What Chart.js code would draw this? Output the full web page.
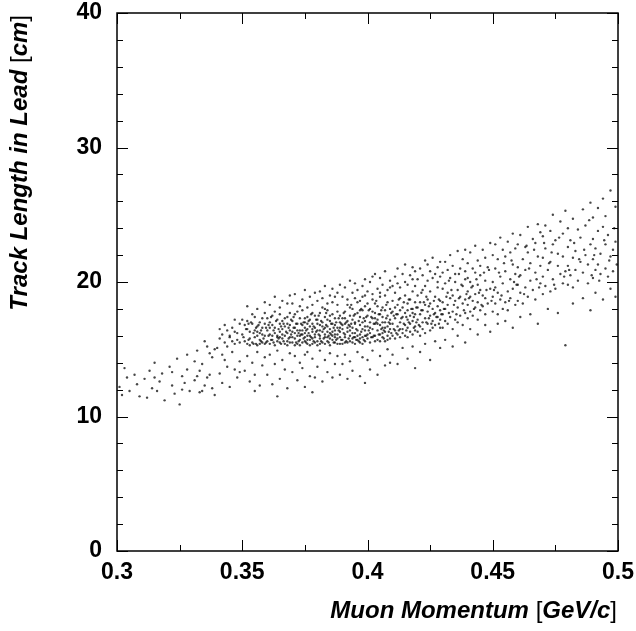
<!DOCTYPE html>
<html>
<head>
<meta charset="utf-8">
<script src="https://cdn.jsdelivr.net/npm/chart.js@4"></script>
<style>
  html, body { margin: 0; padding: 0; background: #fff; }
  #wrap { width: 636px; height: 631px; }
</style>
</head>
<body>
<div id="wrap"><canvas id="scatter"></canvas></div>
<script>
// [momentum GeV/c, track length cm]
const pts030_035 = [
  [0.301,12.2],[0.302,11.6],[0.304,12.9],[0.305,11.9],[0.307,13.1],[0.308,12.4],[0.309,11.5],[0.303,13.6],
  [0.311,12.8],[0.312,11.4],[0.313,13.4],[0.314,12.1],[0.315,14.0],[0.316,11.9],[0.317,12.6],[0.318,13.2],[0.319,11.2],[0.315,12.9],
  [0.321,13.7],[0.322,12.3],[0.323,11.7],[0.324,14.3],[0.325,10.9],[0.326,13.0],[0.327,12.5],[0.328,14.6],[0.329,11.9],[0.322,13.3],[0.326,12.0],[0.328,13.5],
  [0.331,12.7],[0.332,14.9],[0.333,11.8],[0.334,13.9],[0.335,12.3],[0.336,15.2],[0.337,13.1],[0.338,14.4],[0.339,11.6],[0.331,14.1],[0.333,13.4],[0.335,15.6],[0.336,12.9],[0.338,12.1],[0.339,15.0],[0.334,11.9],[0.337,14.7],[0.332,13.0],
  [0.341,15.8],[0.341,13.2],[0.342,16.1],[0.342,12.5],[0.343,15.5],[0.343,14.2],[0.344,16.4],[0.344,13.7],[0.345,15.9],[0.345,12.2],[0.346,16.6],[0.346,14.8],[0.347,15.4],[0.347,13.5],[0.348,16.2],[0.348,15.7],[0.348,12.9],[0.349,16.9],[0.349,15.5],[0.349,14.1],[0.345,16.0],[0.346,15.6],[0.347,16.3],[0.343,16.8],[0.344,15.2],[0.342,14.6],[0.349,13.3],[0.341,16.5],[0.347,17.2],[0.340,15.1]
];

const pts035_040 = [
  [0.350,16.1],[0.351,15.6],[0.351,16.8],[0.352,15.4],[0.352,17.1],[0.353,16.3],[0.353,15.8],[0.354,16.9],[0.354,15.5],[0.355,16.4],[0.355,17.4],[0.355,15.9],[0.356,16.0],[0.356,15.3],[0.356,16.7],[0.357,17.0],[0.357,15.7],[0.357,16.2],[0.358,15.5],[0.358,16.6],[0.358,17.3],[0.359,16.0],[0.359,15.4],[0.359,16.9],[0.350,17.2],[0.352,16.5],[0.353,15.3],[0.354,17.6],[0.356,16.3],[0.357,15.4],[0.358,16.1],[0.359,17.7],
  [0.351,13.4],[0.352,14.5],[0.353,12.6],[0.354,14.0],[0.355,13.1],[0.356,14.8],[0.357,12.3],[0.358,13.8],[0.359,14.4],[0.355,11.9],
  [0.352,18.2],[0.356,18.0],[0.359,18.5],
  [0.360,15.6],[0.360,16.4],[0.361,17.0],[0.361,15.4],[0.361,16.1],[0.362,16.8],[0.362,15.7],[0.362,17.5],[0.363,16.2],[0.363,15.3],[0.363,16.6],[0.364,17.2],[0.364,15.9],[0.364,16.0],[0.365,15.5],[0.365,16.9],[0.365,17.6],[0.365,16.3],[0.366,15.8],[0.366,16.5],[0.366,17.1],[0.367,15.4],[0.367,16.0],[0.367,16.7],[0.368,17.4],[0.368,15.6],[0.368,16.2],[0.368,15.3],[0.369,16.8],[0.369,15.9],[0.369,17.7],[0.369,16.4],[0.360,17.3],[0.362,16.0],[0.363,17.8],[0.364,15.6],[0.366,16.1],[0.367,17.3],[0.368,16.9],[0.369,15.5],[0.361,16.6],[0.365,15.9],
  [0.360,13.1],[0.361,14.6],[0.362,12.4],[0.363,13.9],[0.364,14.9],[0.365,12.8],[0.366,14.2],[0.367,13.5],[0.368,12.1],[0.369,14.7],[0.364,11.5],
  [0.361,18.3],[0.363,18.9],[0.365,18.1],[0.366,18.6],[0.368,18.4],[0.369,19.0],
  [0.370,15.5],[0.370,16.3],[0.370,17.1],[0.371,15.8],[0.371,16.6],[0.371,17.6],[0.372,15.4],[0.372,16.0],[0.372,16.9],[0.373,15.7],[0.373,16.4],[0.373,17.3],[0.373,15.3],[0.374,16.1],[0.374,16.8],[0.374,17.9],[0.375,15.6],[0.375,16.2],[0.375,17.0],[0.375,15.9],[0.376,16.5],[0.376,15.4],[0.376,17.4],[0.376,16.0],[0.377,15.7],[0.377,16.7],[0.377,17.2],[0.377,15.3],[0.378,16.3],[0.378,15.8],[0.378,17.7],[0.378,16.9],[0.379,15.5],[0.379,16.1],[0.379,16.6],[0.379,17.5],[0.370,15.9],[0.371,16.2],[0.372,17.8],[0.373,16.0],[0.374,15.5],[0.375,16.6],[0.376,16.9],[0.377,16.0],[0.378,15.4],[0.379,15.9],[0.372,16.4],[0.374,16.4],[0.376,15.7],[0.378,16.5],[0.371,15.3],[0.375,17.3],
  [0.370,13.3],[0.371,14.5],[0.372,12.7],[0.373,14.0],[0.374,13.6],[0.375,12.2],[0.376,14.8],[0.377,13.0],[0.378,14.3],[0.379,12.9],[0.375,14.6],[0.378,11.8],
  [0.370,18.4],[0.371,19.1],[0.373,18.2],[0.374,18.7],[0.375,19.4],[0.376,18.1],[0.377,18.9],[0.378,18.3],[0.379,19.2],
  [0.380,15.6],[0.380,16.4],[0.380,17.2],[0.380,15.3],[0.381,16.0],[0.381,16.8],[0.381,17.7],[0.381,15.8],[0.382,16.3],[0.382,15.5],[0.382,17.0],[0.382,18.1],[0.383,16.6],[0.383,15.4],[0.383,16.1],[0.383,17.4],[0.384,15.9],[0.384,16.7],[0.384,17.9],[0.384,15.6],[0.385,16.2],[0.385,17.1],[0.385,15.3],[0.385,16.5],[0.386,15.7],[0.386,16.9],[0.386,17.6],[0.386,16.0],[0.387,15.5],[0.387,16.4],[0.387,17.3],[0.387,16.8],[0.388,15.8],[0.388,16.1],[0.388,17.8],[0.388,15.4],[0.389,16.6],[0.389,17.0],[0.389,15.9],[0.389,16.3],[0.380,16.9],[0.381,15.4],[0.382,16.7],[0.383,18.0],[0.384,16.3],[0.385,15.8],[0.386,16.3],[0.387,15.9],[0.388,16.6],[0.389,17.5],[0.381,16.4],[0.383,15.9],[0.385,17.5],[0.387,16.1],[0.389,15.4],[0.384,17.2],
  [0.380,13.7],[0.381,14.9],[0.382,12.6],[0.383,14.2],[0.384,13.3],[0.385,14.7],[0.386,12.9],[0.387,13.9],[0.388,14.5],[0.389,13.1],
  [0.380,18.6],[0.381,19.3],[0.382,18.8],[0.383,19.7],[0.384,18.4],[0.385,19.0],[0.386,18.5],[0.386,19.5],[0.387,18.9],[0.388,19.2],[0.388,18.3],[0.389,19.8],
  [0.390,15.7],[0.390,16.5],[0.390,17.3],[0.390,15.4],[0.391,16.1],[0.391,16.9],[0.391,17.8],[0.391,15.9],[0.392,16.3],[0.392,15.5],[0.392,17.1],[0.392,18.3],[0.393,16.7],[0.393,15.6],[0.393,16.0],[0.393,17.5],[0.394,15.8],[0.394,16.6],[0.394,18.0],[0.394,17.2],[0.395,16.2],[0.395,17.0],[0.395,15.4],[0.395,16.9],[0.396,15.7],[0.396,16.4],[0.396,17.7],[0.396,18.5],[0.397,15.5],[0.397,16.8],[0.397,17.4],[0.397,16.1],[0.398,15.9],[0.398,16.5],[0.398,17.9],[0.398,15.4],[0.399,16.7],[0.399,17.1],[0.399,16.0],[0.399,18.2],[0.390,16.8],[0.391,15.5],[0.392,16.6],[0.393,18.1],[0.394,16.2],[0.395,17.6],[0.396,16.0],[0.397,15.8],[0.398,17.0],[0.399,15.6],[0.391,17.3],[0.393,16.4],[0.395,15.9],[0.397,17.9],[0.399,16.4],[0.394,15.5],
  [0.390,13.9],[0.391,14.6],[0.392,12.8],[0.393,14.1],[0.394,13.4],[0.396,14.8],[0.397,13.0],[0.398,14.4],[0.399,12.5],
  [0.390,18.9],[0.391,19.6],[0.392,18.7],[0.393,20.1],[0.394,19.2],[0.395,18.8],[0.395,19.9],[0.396,19.4],[0.397,18.6],[0.398,19.7],[0.398,18.9],[0.399,20.2],[0.399,19.0]
];

const pts040_045 = [
  [0.400,15.8],[0.400,16.7],[0.400,17.5],[0.400,18.4],[0.401,16.2],[0.401,17.0],[0.401,15.5],[0.401,18.0],[0.402,16.5],[0.402,17.3],[0.402,15.9],[0.402,18.7],[0.403,16.0],[0.403,16.9],[0.403,17.7],[0.403,15.6],[0.404,16.4],[0.404,17.2],[0.404,18.2],[0.404,15.7],[0.405,16.8],[0.405,17.6],[0.405,16.1],[0.405,18.9],[0.406,15.9],[0.406,16.6],[0.406,17.4],[0.406,18.1],[0.407,16.3],[0.407,17.0],[0.407,15.6],[0.407,17.9],[0.408,16.7],[0.408,16.0],[0.408,17.5],[0.408,18.5],[0.409,15.8],[0.409,16.5],[0.409,17.2],[0.409,18.0],[0.400,16.1],[0.401,16.6],[0.402,17.8],[0.403,18.4],[0.404,16.9],[0.405,15.6],[0.406,17.0],[0.407,16.6],[0.408,15.7],[0.409,16.9],[0.403,17.3],[0.406,16.2],
  [0.400,14.2],[0.401,13.5],[0.402,14.9],[0.404,13.1],[0.405,14.5],[0.407,13.8],[0.408,15.0],[0.409,14.0],
  [0.400,19.3],[0.401,20.0],[0.402,19.1],[0.403,20.6],[0.404,19.5],[0.405,19.2],[0.405,20.3],[0.406,19.8],[0.407,19.0],[0.407,20.8],[0.408,19.4],[0.409,20.1],[0.409,19.6],[0.402,20.4],
  [0.410,16.0],[0.410,16.9],[0.410,17.8],[0.410,18.6],[0.411,16.4],[0.411,17.3],[0.411,15.8],[0.411,19.2],[0.412,16.7],[0.412,17.6],[0.412,18.3],[0.412,16.1],[0.413,17.0],[0.413,17.9],[0.413,15.9],[0.413,18.8],[0.414,16.5],[0.414,17.4],[0.414,18.1],[0.414,16.2],[0.415,16.8],[0.415,17.7],[0.415,19.0],[0.415,16.0],[0.416,17.2],[0.416,18.4],[0.416,16.6],[0.416,17.9],[0.417,16.3],[0.417,17.5],[0.417,18.7],[0.417,16.9],[0.418,17.1],[0.418,18.0],[0.418,16.1],[0.418,19.3],[0.419,16.7],[0.419,17.6],[0.419,18.5],[0.419,16.4],[0.411,18.1],[0.413,16.5],[0.416,15.9],[0.418,17.7],
  [0.410,14.6],[0.412,13.9],[0.414,15.1],[0.416,14.3],[0.418,15.2],[0.419,13.6],
  [0.410,19.7],[0.411,20.4],[0.412,19.9],[0.412,21.0],[0.413,19.6],[0.414,20.6],[0.415,20.0],[0.415,21.3],[0.416,19.8],[0.417,20.5],[0.418,20.2],[0.418,21.1],[0.419,19.7],[0.419,20.8],
  [0.420,16.3],[0.420,17.2],[0.420,18.1],[0.420,19.0],[0.421,16.7],[0.421,17.6],[0.421,18.5],[0.421,16.0],[0.422,17.0],[0.422,17.9],[0.422,19.4],[0.422,16.5],[0.423,17.3],[0.423,18.3],[0.423,16.2],[0.423,19.7],[0.424,16.9],[0.424,17.8],[0.424,18.7],[0.425,16.4],[0.425,17.5],[0.425,18.4],[0.425,19.3],[0.426,17.1],[0.426,18.0],[0.426,16.6],[0.427,17.7],[0.427,18.9],[0.427,16.8],[0.428,17.4],[0.428,18.2],[0.428,19.6],[0.429,16.6],[0.429,17.9],[0.429,18.6],[0.429,17.2],
  [0.421,14.8],[0.423,15.4],[0.425,14.2],[0.427,15.6],[0.429,15.1],
  [0.420,20.2],[0.421,21.0],[0.422,20.5],[0.423,21.6],[0.424,20.1],[0.424,21.3],[0.425,20.8],[0.426,20.3],[0.426,21.8],[0.427,20.6],[0.428,21.1],[0.428,20.0],[0.429,21.5],[0.429,20.4],
  [0.430,16.6],[0.430,17.6],[0.430,18.5],[0.430,19.5],[0.431,17.1],[0.431,18.0],[0.431,19.9],[0.432,16.9],[0.432,18.3],[0.432,19.2],[0.433,17.4],[0.433,18.8],[0.433,20.3],[0.434,16.5],[0.434,17.8],[0.434,19.0],[0.435,17.2],[0.435,18.6],[0.435,20.0],[0.436,17.0],[0.436,18.1],[0.436,19.4],[0.437,17.5],[0.437,18.9],[0.438,16.8],[0.438,18.4],[0.438,19.7],[0.439,17.7],[0.439,18.7],[0.439,20.2],
  [0.431,15.7],[0.434,15.2],[0.436,16.0],[0.439,15.5],
  [0.430,20.7],[0.431,21.5],[0.432,20.9],[0.433,22.0],[0.434,21.2],[0.435,20.6],[0.436,22.3],[0.437,21.0],[0.438,21.7],[0.439,20.8],[0.439,22.4],
  [0.440,17.3],[0.440,18.3],[0.440,19.3],[0.440,20.3],[0.441,17.8],[0.441,18.9],[0.441,20.0],[0.442,17.5],[0.442,18.6],[0.442,19.7],[0.443,18.1],[0.443,19.1],[0.443,20.7],[0.444,17.2],[0.444,18.5],[0.444,19.8],[0.445,17.9],[0.445,19.4],[0.445,20.5],[0.446,18.2],[0.446,19.0],[0.447,17.6],[0.447,18.8],[0.447,20.1],[0.448,18.4],[0.449,19.5],
  [0.441,16.5],[0.444,16.1],[0.447,16.8],[0.449,16.3],
  [0.440,21.4],[0.441,22.2],[0.442,21.0],[0.443,22.7],[0.444,21.6],[0.445,21.2],[0.446,22.4],[0.447,21.8],[0.448,21.1],[0.449,22.9]
];

const pts045_050 = [
  [0.450,17.8],[0.450,18.9],[0.450,20.0],[0.451,18.4],[0.451,19.6],[0.451,21.0],[0.452,17.6],[0.452,19.2],[0.453,18.7],[0.453,20.4],[0.454,18.0],[0.454,19.9],[0.455,18.5],[0.455,20.8],[0.456,19.3],[0.456,17.9],[0.457,18.8],[0.457,20.2],[0.458,19.5],[0.458,21.3],[0.459,18.3],[0.459,20.6],
  [0.452,16.9],[0.455,17.1],[0.458,16.6],
  [0.450,22.0],[0.451,22.8],[0.452,21.7],[0.453,23.3],[0.454,22.4],[0.455,21.9],[0.456,23.0],[0.457,22.2],[0.458,23.6],[0.459,22.5],
  [0.460,18.6],[0.460,19.8],[0.460,21.1],[0.461,19.2],[0.461,20.5],[0.462,18.4],[0.462,21.7],[0.463,19.6],[0.463,20.9],[0.464,18.9],[0.464,22.2],[0.465,20.1],[0.465,21.4],[0.466,19.4],[0.467,20.7],[0.467,18.7],[0.468,21.9],[0.469,19.9],[0.469,21.2],
  [0.461,17.4],[0.465,17.6],[0.468,16.9],
  [0.460,22.8],[0.461,23.5],[0.463,22.6],[0.464,24.1],[0.466,23.2],[0.467,22.9],[0.468,24.3],[0.469,23.7],
  [0.470,19.1],[0.470,20.4],[0.470,21.8],[0.471,19.7],[0.471,22.5],[0.472,20.9],[0.473,19.3],[0.473,21.5],[0.474,20.2],[0.474,22.8],[0.475,19.5],[0.476,21.2],[0.476,22.1],[0.477,20.6],[0.478,19.9],[0.478,21.9],[0.479,20.8],
  [0.472,18.0],[0.476,17.7],[0.479,15.3],
  [0.470,23.4],[0.471,24.2],[0.473,23.8],[0.474,25.0],[0.475,23.1],[0.477,24.5],[0.478,23.6],[0.479,25.3],
  [0.480,19.8],[0.480,21.2],[0.480,22.6],[0.481,20.5],[0.481,23.1],[0.482,19.6],[0.482,21.8],[0.483,20.9],[0.483,22.3],[0.484,20.1],[0.485,21.5],[0.485,23.3],[0.486,20.7],[0.487,22.0],[0.488,19.9],[0.488,21.3],[0.489,22.8],
  [0.482,18.4],[0.486,18.8],[0.489,17.9],
  [0.480,24.0],[0.482,24.7],[0.484,23.9],[0.486,25.4],[0.487,24.2],[0.489,25.9],
  [0.490,20.3],[0.490,21.7],[0.490,23.2],[0.491,20.9],[0.491,22.5],[0.492,21.3],[0.492,23.8],[0.493,20.6],[0.493,22.1],[0.494,24.1],[0.495,21.0],[0.495,22.8],[0.496,20.4],[0.496,23.5],[0.497,21.9],[0.498,22.4],[0.498,20.8],[0.499,23.0],
  [0.491,19.2],[0.494,18.7],[0.497,19.5],[0.499,18.9],
  [0.490,24.8],[0.492,25.5],[0.494,26.2],[0.495,24.9],[0.497,26.8],[0.499,25.6]
];

// more points from the crowded band, read between the ones above
const ptsBandExtra = [
  [0.3505,15.9],[0.3515,16.5],[0.3525,15.7],[0.3535,17.0],[0.3545,16.2],[0.3555,15.4],[0.3565,16.8],[0.3575,16.4],[0.3585,15.8],[0.3595,16.6],[0.3525,16.9],[0.3555,16.6],[0.3575,15.6],[0.3595,15.5],[0.3545,15.4],
  [0.3605,16.0],[0.3615,15.7],[0.3625,16.4],[0.3635,17.1],[0.3645,16.5],[0.3655,15.4],[0.3665,16.9],[0.3675,16.3],[0.3685,15.8],[0.3695,17.2],[0.3605,16.8],[0.3625,15.5],[0.3645,15.8],[0.3665,15.6],[0.3685,16.6],[0.3615,17.4],[0.3655,16.7],[0.3695,16.1],
  [0.3705,16.6],[0.3715,15.5],[0.3725,16.2],[0.3735,16.9],[0.3745,15.8],[0.3755,16.4],[0.3765,17.1],[0.3775,15.9],[0.3785,16.7],[0.3795,16.3],[0.3705,17.4],[0.3725,15.6],[0.3745,17.0],[0.3765,16.2],[0.3785,15.6],[0.3715,16.9],[0.3755,15.5],[0.3795,17.2],[0.3735,16.1],[0.3775,17.6],
  [0.3805,16.1],[0.3815,17.1],[0.3825,15.8],[0.3835,16.8],[0.3845,16.0],[0.3855,16.9],[0.3865,15.5],[0.3875,17.0],[0.3885,16.4],[0.3895,15.7],[0.3805,17.5],[0.3825,16.5],[0.3845,15.5],[0.3865,16.6],[0.3885,17.3],[0.3815,15.6],[0.3835,17.7],[0.3855,16.1],[0.3875,15.7],[0.3895,16.9],
  [0.3905,16.2],[0.3915,17.0],[0.3925,15.8],[0.3935,16.9],[0.3945,17.5],[0.3955,16.5],[0.3965,15.6],[0.3975,16.3],[0.3985,17.3],[0.3995,16.0],[0.3905,17.7],[0.3925,16.8],[0.3945,15.9],[0.3965,17.1],[0.3985,15.7],[0.3915,15.6],[0.3935,18.3],[0.3955,15.7],[0.3975,18.0],[0.3995,17.4],
  [0.4005,16.4],[0.4015,17.4],[0.4025,16.0],[0.4035,17.0],[0.4045,16.1],[0.4055,17.9],[0.4065,16.4],[0.4075,17.3],[0.4085,16.3],[0.4095,17.7],[0.4005,17.9],[0.4025,16.9],[0.4045,17.6],[0.4065,15.8],[0.4085,17.0],[0.4015,15.9],[0.4035,18.6],[0.4055,16.5],[0.4075,18.3],[0.4095,16.2],
  [0.4105,16.5],[0.4115,17.6],[0.4125,16.4],[0.4135,17.3],[0.4145,18.5],[0.4155,16.4],[0.4165,17.0],[0.4175,18.0],[0.4185,16.6],[0.4195,18.1],[0.4105,17.5],[0.4125,18.7],[0.4145,16.9],[0.4165,18.7],[0.4185,17.4],[0.4115,16.2],[0.4155,17.4],[0.4195,17.0],
  [0.4205,16.8],[0.4215,17.9],[0.4225,18.5],[0.4235,17.0],[0.4245,18.2],[0.4255,16.9],[0.4265,18.6],[0.4275,17.4],[0.4285,18.7],[0.4295,17.6],[0.4215,19.2],[0.4245,17.3],[0.4265,17.6],[0.4285,16.9],[0.4235,18.9],
  [0.4305,18.0],[0.4315,18.9],[0.4325,17.7],[0.4335,19.4],[0.4345,18.3],[0.4355,17.6],[0.4365,18.8],[0.4375,19.8],[0.4385,17.9],[0.4395,19.1],[0.4325,20.1],[0.4365,20.6],
  [0.4405,18.8],[0.4415,19.6],[0.4425,18.0],[0.4435,20.2],[0.4445,19.2],[0.4455,18.3],[0.4465,20.7],[0.4475,19.4],[0.4485,20.9],[0.4495,18.6],
  [0.4505,19.4],[0.4525,20.7],[0.4545,21.4],[0.4565,18.6],[0.4585,20.0],[0.4535,19.0],[0.4575,21.6],[0.4595,19.8],
  [0.4605,20.4],[0.4625,19.1],[0.4645,21.0],[0.4665,22.4],[0.4685,19.6],[0.4635,22.7],[0.4675,20.2],
  [0.4705,22.9],[0.4725,21.4],[0.4745,19.8],[0.4765,23.3],[0.4785,20.4],[0.4735,22.2],
  [0.4805,20.9],[0.4825,22.9],[0.4845,21.7],[0.4865,22.4],[0.4885,24.6],[0.4895,20.5],
  [0.4905,22.0],[0.4925,20.1],[0.4945,23.1],[0.4965,21.6],[0.4985,24.0],[0.4995,21.3]
];

const xTicks = [0.3, 0.35, 0.4, 0.45, 0.5];
const yTicks = [0, 10, 20, 30, 40];

const allPts = [].concat(pts030_035, pts035_040, pts040_045, pts045_050, ptsBandExtra)
  .map(p => ({ x: p[0], y: p[1] }));

const FONT = '"Liberation Sans", Arial, Helvetica, sans-serif';

// keep the frame where the reference has it, labels may hang over the edge
function noEdgePadding(s) {
  s.paddingLeft = 0; s.paddingRight = 0; s.paddingTop = 0; s.paddingBottom = 0;
}

// ROOT style frame with inward ticks on all four sides, plus axis titles
const rootFrame = {
  id: 'rootFrame',
  afterDraw(chart) {
    const ctx = chart.ctx;
    const a = chart.chartArea;
    const xs = chart.scales.x, ys = chart.scales.y;
    ctx.save();
    ctx.strokeStyle = '#000';
    ctx.lineWidth = 1.5;
    ctx.strokeRect(a.left, a.top, a.right - a.left, a.bottom - a.top);
    ctx.lineWidth = 1;
    ctx.beginPath();
    for (let i = 0; i <= 8; i++) {
      const v = 0.3 + i * 0.025;
      const px = Math.round(xs.getPixelForValue(v)) + 0.5;
      const len = i % 2 === 0 ? 11 : 6;
      ctx.moveTo(px, a.bottom); ctx.lineTo(px, a.bottom - len);
      ctx.moveTo(px, a.top); ctx.lineTo(px, a.top + len);
    }
    for (let i = 0; i <= 20; i++) {
      const py = Math.round(ys.getPixelForValue(i * 2)) + 0.5;
      const len = i % 5 === 0 ? 11 : 6;
      ctx.moveTo(a.left, py); ctx.lineTo(a.left + len, py);
      ctx.moveTo(a.right, py); ctx.lineTo(a.right - len, py);
    }
    ctx.stroke();

    ctx.fillStyle = '#000';
    ctx.textBaseline = 'alphabetic';
    const bi = 'italic bold 24px ' + FONT;
    const rg = '24px ' + FONT;
    // x title, right aligned at the frame end
    const xt = [['Muon Momentum ', bi], ['[', rg], ['GeV/c', bi], [']', rg]];
    let w = 0;
    xt.forEach(t => { ctx.font = t[1]; w += ctx.measureText(t[0]).width; });
    let cx = 617 - w;
    xt.forEach(t => { ctx.font = t[1]; ctx.fillText(t[0], cx, 618); cx += ctx.measureText(t[0]).width; });
    // y title, rotated, ends at the top of the frame
    const yt = [['Track Length in Lead ', bi], ['[', rg], ['cm', bi], [']', rg]];
    w = 0;
    yt.forEach(t => { ctx.font = t[1]; w += ctx.measureText(t[0]).width; });
    ctx.translate(27, 15);
    ctx.rotate(-Math.PI / 2);
    cx = -w;
    yt.forEach(t => { ctx.font = t[1]; ctx.fillText(t[0], cx, 0); cx += ctx.measureText(t[0]).width; });
    ctx.restore();
  }
};

new Chart(document.getElementById('scatter'), {
  type: 'scatter',
  data: {
    datasets: [{
      data: allPts,
      pointRadius: 1.2,
      pointBorderWidth: 0,
      pointBackgroundColor: 'rgba(0,0,0,0.72)',
      pointHoverRadius: 0
    }]
  },
  options: {
    responsive: true,
    maintainAspectRatio: false,
    animation: false,
    events: [],
    layout: { padding: { top: 13, right: 18, left: 0, bottom: 0 } },
    plugins: { legend: { display: false }, tooltip: { enabled: false } },
    scales: {
      x: {
        type: 'linear',
        min: 0.3, max: 0.5,
        afterBuildTicks: s => { s.ticks = xTicks.map(v => ({ value: v })); },
        afterFit: s => { s.height = 80; noEdgePadding(s); },
        grid: { display: false, drawTicks: false },
        border: { display: false },
        ticks: {
          color: '#000', padding: 8, maxRotation: 0, autoSkip: false,
          font: { family: FONT, size: 23, weight: 'bold' },
          callback: v => String(parseFloat(v.toFixed(2)))
        }
      },
      y: {
        type: 'linear',
        min: 0, max: 40,
        afterBuildTicks: s => { s.ticks = yTicks.map(v => ({ value: v })); },
        afterFit: s => { s.width = 117; noEdgePadding(s); },
        grid: { display: false, drawTicks: false },
        border: { display: false },
        ticks: {
          color: '#000', padding: 15,
          font: { family: FONT, size: 23, weight: 'bold' }
        }
      }
    }
  },
  plugins: [rootFrame]
});
</script>
</body>
</html>
